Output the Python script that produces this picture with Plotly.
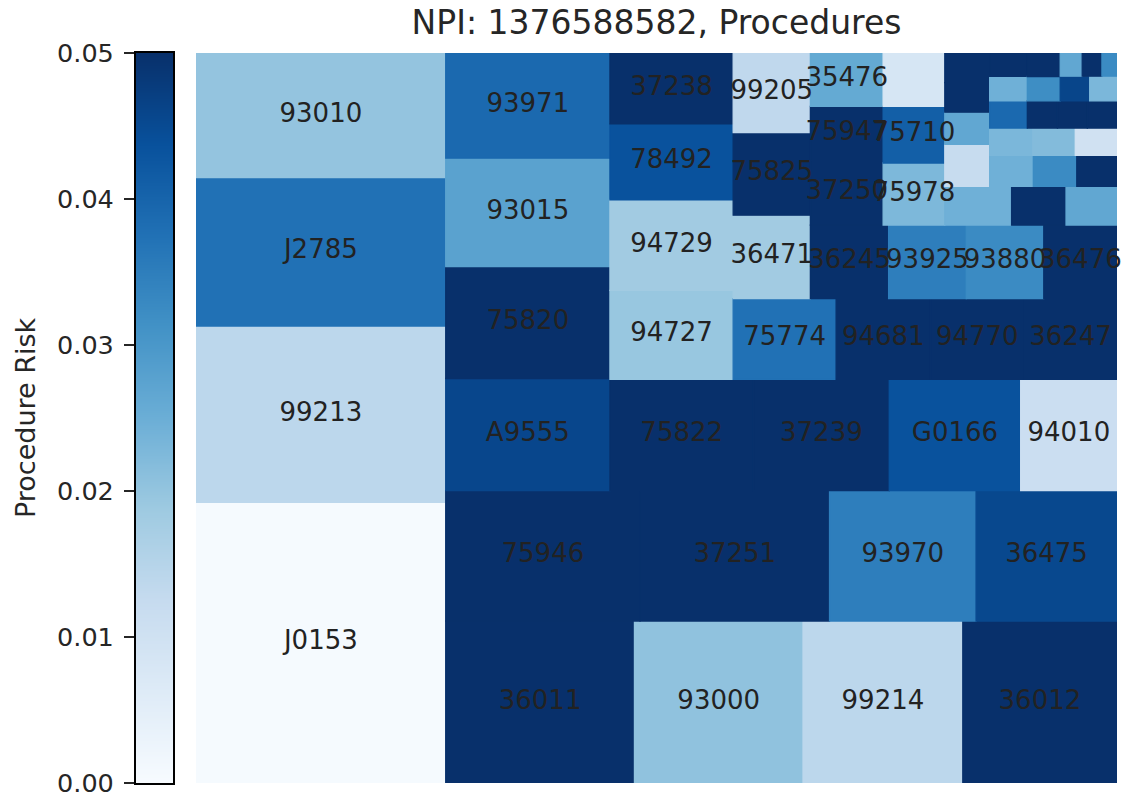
import numpy as np
import plotly.graph_objects as go

# ---------------- data ----------------
title_text = "NPI: 1376588582, Procedures"
colorbar_title = "Procedure Risk"

# procedure codes (only the first 40 rectangles carry labels)
labels = [
    "J0153", "99213", "J2785", "93010",
    "36011", "93000", "99214", "36012",
    "75946", "37251", "93970", "36475",
    "A9555", "75820", "93015", "93971",
    "75822", "37239", "G0166", "94010",
    "94727", "94729", "78492", "37238",
    "75774", "94681", "94770", "36247",
    "36471", "75825", "99205",
    "36245", "93925", "93880", "36476",
    "37250", "75947", "35476",
    "75978", "75710",
]

# relative procedure volume (rectangle area)
sizes = [
    1042.5, 654.8, 550.8, 463.1,
    454.7, 406.2, 385.0, 371.5,
    376.6, 367.3, 284.1, 273.1,
    274.0, 273.0, 265.0, 257.0,
    237.8, 225.0, 217.7, 159.6,
    163.0, 166.0, 139.0, 130.0,
    123.5, 113.2, 112.3, 111.4,
    95.8, 94.9, 91.3,
    85.6, 85.0, 84.8, 80.1,
    69.7, 58.8, 57.7,
    56.9, 52.0, 48.9,
    38.4, 31.3, 29.3,
    28.0, 21.5, 19.8, 19.7,
    20.2, 20.1, 18.6,
    17.5, 17.2, 16.9,
    15.3, 13.7, 13.05,
    12.2, 12.1, 12.0,
    11.9, 11.5,
    10.8, 10.0,
    7.6, 6.8, 5.2,
]

# procedure risk (colour)
risk = [
    0.0005, 0.014, 0.0375, 0.020,
    0.065, 0.0205, 0.014, 0.060,
    0.070, 0.060, 0.035, 0.0455,
    0.0458, 0.055, 0.0276, 0.039,
    0.060, 0.058, 0.0435, 0.0113,
    0.0195, 0.0182, 0.0435, 0.065,
    0.0375, 0.060, 0.070, 0.055,
    0.0182, 0.060, 0.0135,
    0.060, 0.035, 0.0325, 0.065,
    0.060, 0.070, 0.026,
    0.0228, 0.041, 0.0083,
    0.0245, 0.060, 0.0265,
    0.0122, 0.0265, 0.060, 0.060,
    0.0245, 0.0325, 0.060,
    0.023, 0.022, 0.010,
    0.039, 0.0245, 0.060,
    0.060, 0.070, 0.055,
    0.032, 0.060,
    0.046, 0.023,
    0.0265, 0.060, 0.0325,
]

risk_min, risk_max = 0.0, 0.05
risk_ticks = [0.0, 0.01, 0.02, 0.03, 0.04, 0.05]
risk_ticktext = ["0.00", "0.01", "0.02", "0.03", "0.04", "0.05"]

blues = ["#f7fbff", "#deebf7", "#c6dbef", "#9ecae1", "#6baed6",
         "#4292c6", "#2171b5", "#08519c", "#08306b"]
colorscale = [[i / (len(blues) - 1), c] for i, c in enumerate(blues)]

# ---------------- squarify layout (same algorithm as the squarify package) ----------------
def normalize_sizes(vals, dx, dy):
    total = float(sum(vals))
    return [v * dx * dy / total for v in vals]

def layoutrow(s, x, y, dx, dy):
    covered = sum(s)
    width = covered / dy
    out = []
    for v in s:
        out.append((x, y, width, v / width))
        y += v / width
    return out

def layoutcol(s, x, y, dx, dy):
    covered = sum(s)
    height = covered / dx
    out = []
    for v in s:
        out.append((x, y, v / height, height))
        x += v / height
    return out

def layout(s, x, y, dx, dy):
    return layoutrow(s, x, y, dx, dy) if dx >= dy else layoutcol(s, x, y, dx, dy)

def leftover(s, x, y, dx, dy):
    covered = sum(s)
    if dx >= dy:
        w = covered / dy
        return x + w, y, dx - w, dy
    h = covered / dx
    return x, y + h, dx, dy - h

def worst_ratio(s, x, y, dx, dy):
    return max(max(r[2] / r[3], r[3] / r[2]) for r in layout(s, x, y, dx, dy))

def squarify(s, x, y, dx, dy):
    s = list(map(float, s))
    if len(s) == 0:
        return []
    if len(s) == 1:
        return layout(s, x, y, dx, dy)
    i = 1
    while i < len(s) and worst_ratio(s[:i], x, y, dx, dy) >= worst_ratio(s[:i + 1], x, y, dx, dy):
        i += 1
    cur, rem = s[:i], s[i:]
    lx, ly, ldx, ldy = leftover(cur, x, y, dx, dy)
    return layout(cur, x, y, dx, dy) + squarify(rem, lx, ly, ldx, ldy)

NX, NY = 100.0, 100.0
rects = squarify(normalize_sizes(sizes, NX, NY), 0.0, 0.0, NX, NY)
rx = np.array([r[0] for r in rects])
ry = np.array([r[1] for r in rects])
rdx = np.array([r[2] for r in rects])
rdy = np.array([r[3] for r in rects])

# ---------------- figure ----------------
W, H = 1138, 796
tm_x0, tm_x1, tm_top, tm_bot = 196, 1117, 53, 783
cb_x0, cb_x1 = 135.7, 173.3
text_col = "#262626"
font_family = "DejaVu Sans"

fig = go.Figure()

fig.add_trace(go.Bar(
    x=rx + rdx / 2, y=rdy, base=ry, width=rdx,
    marker=dict(color=risk, colorscale=colorscale, cmin=risk_min, cmax=risk_max,
                showscale=False,
                line=dict(width=1.3, color=risk, colorscale=colorscale,
                          cmin=risk_min, cmax=risk_max)),
    xaxis="x", yaxis="y", hoverinfo="skip", showlegend=False,
))

n_lab = len(labels)
fig.add_trace(go.Scatter(
    x=(rx + rdx / 2)[:n_lab], y=(ry + rdy / 2)[:n_lab], text=labels,
    mode="text", textposition="middle center",
    textfont=dict(family=font_family, size=26, color="#222222"),
    cliponaxis=False, hoverinfo="skip", showlegend=False,
    xaxis="x", yaxis="y",
))

# colour bar drawn as a gradient heatmap on its own axis
levels = np.linspace(risk_min, risk_max, 201)
fig.add_trace(go.Heatmap(
    x=[0], y=levels, z=[[v] for v in levels],
    colorscale=colorscale, zmin=risk_min, zmax=risk_max,
    showscale=False, zsmooth="best", hoverinfo="skip",
    xaxis="x2", yaxis="y2",
))

ydom = [(H - tm_bot) / H, (H - tm_top) / H]

fig.update_layout(
    width=W, height=H,
    margin=dict(l=0, r=0, t=0, b=0, autoexpand=False),
    paper_bgcolor="white", plot_bgcolor="white",
    barmode="overlay",
    font=dict(family=font_family, color=text_col),
    xaxis=dict(domain=[tm_x0 / W, tm_x1 / W], range=[0, NX], visible=False,
               fixedrange=True, automargin=False),
    yaxis=dict(domain=ydom, range=[0, NY], visible=False, fixedrange=True,
               automargin=False),
    xaxis2=dict(domain=[cb_x0 / W, cb_x1 / W], range=[-0.5, 0.5], anchor="y2",
                showticklabels=False, ticks="", showgrid=False, zeroline=False,
                automargin=False, fixedrange=True,
                showline=True, linecolor="#000000", linewidth=1.5, mirror=True),
    yaxis2=dict(domain=ydom, range=[risk_min, risk_max], anchor="x2", side="left",
                tickvals=risk_ticks, ticktext=risk_ticktext,
                ticks="outside", ticklen=10, tickwidth=1.5, tickcolor=text_col,
                tickfont=dict(family=font_family, size=25.5, color=text_col),
                ticklabelstandoff=5, ticklabeloverflow="allow",
                automargin=False, fixedrange=True,
                showgrid=False, zeroline=False,
                showline=True, linecolor="#000000", linewidth=1.5, mirror=True),
    title=dict(text=title_text, x=((tm_x0 + tm_x1) / 2) / W, xanchor="center",
               y=1 - 22 / H, yanchor="middle", automargin=False,
               font=dict(family=font_family, size=33, color=text_col)),
    annotations=[dict(text=colorbar_title, x=25 / W, y=(H - (tm_top + tm_bot) / 2) / H,
                      xref="paper", yref="paper", showarrow=False, textangle=-90,
                      xanchor="center", yanchor="middle",
                      font=dict(family=font_family, size=27, color=text_col))],
)

fig.write_html("out.html", config={"displayModeBar": False},
               post_script="document.body.style.margin='0';")
